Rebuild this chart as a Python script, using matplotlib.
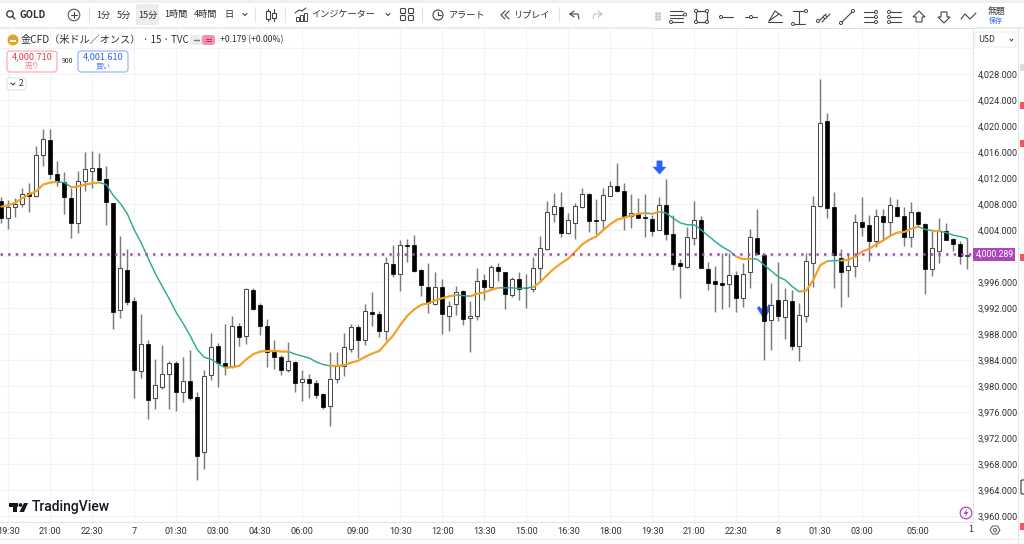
import matplotlib
matplotlib.use("Agg")
import matplotlib.pyplot as plt
import numpy as np
from matplotlib.patches import Rectangle, FancyBboxPatch, Circle, Polygon
from matplotlib.path import Path

plt.rcParams['font.family'] = ['Noto Sans CJK JP', 'DejaVu Sans']

# 15 minute candles
opens = [
    4008.5, 4005.8, 4007.5, 4008.0, 4009.7, 4009.2, 4015.6, 4017.8, 4012.6, 4011.4,
    4008.9, 4005.0, 4011.6, 4013.0, 4013.5, 4011.8, 4008.1, 3991.7, 3997.9, 3993.0,
    3982.3, 3986.5, 3978.2, 3979.9, 3981.8, 3983.6, 3979.0, 3980.8, 3978.3, 3969.8,
    3981.7, 3986.1, 3983.6, 3983.1, 3989.3, 3987.7, 3994.8, 3992.4, 3989.2, 3985.2,
    3984.4, 3982.4, 3983.7, 3980.6, 3981.1, 3980.5, 3978.7, 3976.9, 3981.0, 3983.1,
    3985.7, 3989.0, 3987.1, 3991.4, 3991.0, 3988.4, 3998.8, 3997.2, 4001.7, 4001.7,
    3997.9, 3995.3, 3992.6, 3995.3, 3990.8, 3992.6, 3994.6, 3990.4, 3990.8, 3996.3,
    3995.3, 3998.3, 3997.5, 3994.0, 3996.4, 3995.1, 3994.9, 3998.1, 4001.1, 4006.5,
    4007.6, 4003.5, 4005.1, 4007.5, 4009.5, 4005.6, 4005.6, 4009.3, 4010.7, 4010.0,
    4006.1, 4006.5, 4006.0, 4005.7, 4004.0, 4007.9, 4003.4, 3998.9, 3998.3, 4002.7,
    4005.5, 3998.0, 3996.1, 3995.8, 3995.7, 3997.0, 3993.5, 3997.6, 4002.7, 4000.2,
    3990.2, 3993.2, 3990.6, 3993.1, 3986.2, 3990.7, 3998.9, 4007.7, 4020.7, 4007.5,
    3999.7, 3997.8, 3998.5, 4005.3, 4004.8, 4002.3, 4006.1, 4005.3, 4007.6, 4006.2,
    4002.9, 4006.7, 4004.9, 3998.0, 4000.8, 4003.8, 4002.6, 4001.9, 4000.0]
highs = [
    4009.1, 4008.6, 4008.9, 4010.4, 4011.2, 4016.9, 4019.5, 4019.5, 4014.6, 4012.9,
    4010.4, 4013.0, 4016.0, 4016.2, 4015.9, 4013.8, 4008.2, 4003.1, 4001.0, 3993.7,
    3991.1, 3987.1, 3984.2, 3986.3, 3983.9, 3983.9, 3984.5, 3985.6, 3979.0, 3982.5,
    3988.1, 3986.6, 3989.5, 3990.8, 3989.7, 3995.1, 3995.1, 3992.7, 3990.3, 3987.1,
    3984.8, 3986.8, 3983.9, 3982.5, 3981.8, 3980.9, 3978.9, 3985.3, 3985.3, 3988.1,
    3989.6, 3989.4, 3992.6, 3994.5, 3991.5, 3999.8, 4001.7, 4002.5, 4002.6, 4003.2,
    3998.0, 3998.9, 3997.6, 3996.5, 3993.0, 3995.4, 3994.8, 3993.0, 3998.1, 3997.3,
    3998.6, 3998.9, 3997.6, 3996.8, 3997.5, 3997.2, 3999.8, 4003.0, 4008.4, 4009.7,
    4009.8, 4006.6, 4008.1, 4010.4, 4009.7, 4008.7, 4010.4, 4011.6, 4014.3, 4011.3,
    4009.5, 4008.9, 4009.5, 4006.3, 4009.1, 4011.8, 4006.3, 3999.6, 4004.4, 4008.4,
    4006.2, 3999.1, 3998.4, 4000.4, 4000.4, 3997.7, 3998.9, 4004.1, 4007.3, 4000.3,
    3995.8, 3999.1, 3995.0, 3994.8, 3992.8, 4000.5, 4009.3, 4027.3, 4022.0, 4009.8,
    4001.1, 4000.4, 4006.4, 4009.0, 4006.3, 4007.3, 4007.2, 4009.0, 4008.7, 4007.6,
    4008.3, 4006.9, 4005.0, 4004.0, 4005.8, 4005.1, 4002.7, 4002.3, 4002.7]
lows = [
    4005.0, 4004.1, 4006.0, 4007.6, 4006.8, 4009.0, 4013.8, 4011.8, 4010.8, 4006.4,
    4002.7, 4003.5, 4010.0, 4010.4, 4011.6, 4004.7, 3988.8, 3990.5, 3992.5, 3978.1,
    3981.3, 3974.9, 3976.4, 3979.5, 3976.4, 3976.2, 3977.6, 3977.9, 3965.5, 3967.3,
    3980.9, 3979.9, 3981.7, 3982.7, 3986.1, 3986.5, 3991.7, 3987.9, 3982.9, 3982.6,
    3981.7, 3982.2, 3979.0, 3977.7, 3978.1, 3978.2, 3976.5, 3973.8, 3980.5, 3981.6,
    3985.3, 3984.3, 3986.3, 3989.2, 3987.5, 3987.0, 3996.7, 3994.6, 3999.0, 3997.5,
    3993.9, 3991.3, 3992.5, 3988.0, 3988.4, 3990.9, 3989.4, 3985.2, 3990.2, 3993.3,
    3994.7, 3996.1, 3991.8, 3993.7, 3993.2, 3992.0, 3994.4, 3996.0, 4000.9, 4005.3,
    4002.9, 4003.4, 4002.6, 4007.4, 4003.7, 4003.4, 4004.0, 4009.2, 4009.9, 4004.0,
    4004.3, 4005.8, 4002.9, 4003.0, 4004.0, 4002.5, 3997.8, 3993.5, 3998.2, 4001.7,
    3998.1, 3994.7, 3991.4, 3991.8, 3992.1, 3991.4, 3992.2, 3995.0, 4000.3, 3984.0,
    3985.6, 3990.0, 3987.3, 3985.6, 3983.8, 3989.8, 3995.3, 4007.6, 4005.9, 3995.0,
    3992.2, 3993.7, 3996.8, 4003.0, 3999.3, 4001.4, 4002.4, 4003.2, 4006.0, 4001.6,
    4001.4, 4004.5, 3994.1, 3996.9, 3998.9, 4002.4, 4000.8, 3998.7, 3998.0]
closes = [
    4005.8, 4007.6, 4008.0, 4009.6, 4009.2, 4015.6, 4018.0, 4012.6, 4011.4, 4009.0,
    4005.1, 4011.6, 4013.4, 4013.5, 4011.7, 4008.3, 3991.4, 3998.1, 3992.9, 3982.5,
    3986.5, 3977.9, 3980.1, 3981.8, 3983.5, 3979.1, 3980.8, 3978.2, 3969.3, 3981.5,
    3986.0, 3983.6, 3983.0, 3989.2, 3987.5, 3994.9, 3991.9, 3989.2, 3985.2, 3984.4,
    3982.5, 3983.9, 3980.5, 3981.1, 3980.4, 3978.6, 3976.8, 3981.0, 3983.1, 3986.0,
    3989.0, 3987.0, 3991.5, 3991.0, 3988.5, 3998.9, 3997.3, 4001.7, 4001.6, 3997.7,
    3995.5, 3992.7, 3995.3, 3991.0, 3992.3, 3994.4, 3990.3, 3990.8, 3996.2, 3995.3,
    3998.3, 3997.7, 3994.1, 3996.4, 3994.9, 3995.0, 3998.1, 4001.3, 4006.7, 4007.7,
    4003.5, 4005.5, 4007.7, 4009.5, 4005.4, 4005.4, 4009.4, 4010.7, 4010.0, 4006.1,
    4006.6, 4005.9, 4005.9, 4003.9, 4007.9, 4003.4, 3998.7, 3998.4, 4002.9, 4005.6,
    3998.2, 3995.9, 3995.7, 3995.6, 3997.0, 3993.6, 3997.3, 4002.9, 4000.3, 3990.0,
    3992.4, 3990.8, 3993.2, 3986.1, 3990.9, 3999.2, 4007.7, 4020.5, 4007.4, 4000.1,
    3997.6, 3998.5, 4005.3, 4004.4, 4002.3, 4006.2, 4005.2, 4007.8, 4006.2, 4002.9,
    4006.7, 4004.9, 3998.0, 4001.2, 4003.9, 4002.4, 4001.8, 4000.0, 4000.2]

# moving average drawn through the candles
ema = [
    4007.6, 4007.8, 4008.2, 4008.9, 4009.5, 4010.0, 4011.0, 4011.3, 4011.4, 4011.3,
    4010.6, 4010.7, 4011.0, 4011.2, 4011.3, 4011.0, 4009.3, 4008.1, 4006.5, 4004.0,
    4002.0, 3999.6, 3997.3, 3995.3, 3993.4, 3991.3, 3989.6, 3987.7, 3985.6, 3984.4,
    3984.1, 3983.4, 3982.8, 3982.9, 3983.1, 3984.1, 3984.9, 3985.3, 3985.4, 3985.4,
    3985.3, 3985.3, 3984.9, 3984.6, 3984.3, 3983.7, 3983.3, 3983.1, 3983.1, 3983.2,
    3983.6, 3983.9, 3984.5, 3985.0, 3985.4, 3986.6, 3987.8, 3989.4, 3990.8, 3991.8,
    3992.5, 3992.7, 3993.2, 3993.5, 3993.8, 3994.0, 3993.9, 3993.8, 3994.2, 3994.4,
    3994.8, 3995.1, 3995.1, 3995.1, 3995.0, 3995.1, 3995.2, 3996.0, 3997.1, 3998.1,
    3998.9, 3999.6, 4000.7, 4001.8, 4002.5, 4003.0, 4004.0, 4004.9, 4005.6, 4005.9,
    4006.2, 4006.5, 4006.6, 4006.5, 4006.8, 4006.6, 4005.8, 4005.1, 4004.8, 4004.8,
    4004.0, 4003.1, 4002.2, 4001.4, 4000.8, 3999.9, 3999.5, 3999.6, 3999.5, 3998.6,
    3997.7, 3996.8, 3996.3, 3995.3, 3994.5, 3994.7, 3996.3, 3998.6, 3999.2, 3999.3,
    3999.3, 3999.4, 3999.9, 4000.7, 4001.1, 4001.8, 4002.4, 4003.1, 4003.6, 4003.7,
    4004.2, 4004.5, 4004.1, 4003.9, 4003.8, 4003.6, 4003.2, 4003.0, 4002.7]
# stretches of the average that are orange, the rest is teal
ema_up_ranges = [(0, 8), (10, 14), (32, 41), (47, 65), (67, 71), (76, 92), (93, 94),
                 (105, 107), (114, 118), (120, 131), (133, 134)]

time_ticks = [1, 7, 13, 19, 25, 31, 37, 43, 51, 57, 63, 69, 75, 81, 87, 93, 99, 105,
              111, 117, 123, 131]
time_labels = ['19:30', '21:00', '22:30', '7', '01:30', '03:00', '04:30', '06:00',
               '09:00', '10:30', '12:00', '13:30', '15:00', '16:30', '18:00', '19:30',
               '21:00', '22:30', '8', '01:30', '03:00', '05:00']
price_ticks = list(range(3960, 4033, 4))
last_price = 4000.289
sell_signal = (94, 4013.7)
buy_signal = (109, 3991.6)

W, H = 1024, 544
fig = plt.figure(figsize=(W / 100, H / 100), dpi=100, facecolor='white')

# main chart, 7 px per candle
ax = fig.add_axes([0, 1 - 522 / H, 973 / W, (522 - 28) / H], zorder=1)
ax.set_xlim(-1.3 / 7, (973 - 1.3) / 7)
ax.set_ylim(4028 - (522 - 74) / 6.5, 4028 + 46 / 6.5)
for s in ax.spines.values():
    s.set_visible(False)
ax.spines['right'].set_visible(True)
ax.spines['bottom'].set_visible(True)
ax.spines['right'].set_color('#e4e4e4')
ax.spines['bottom'].set_color('#e4e4e4')
ax.yaxis.tick_right()
ax.set_xticks(time_ticks)
ax.set_xticklabels(time_labels, fontsize=6.6, color='#333333', family='Roboto')
ax.set_yticks(price_ticks)
ax.set_yticklabels(['' if p in (4000, 4032) else f'{p:,.3f}' for p in price_ticks],
                   fontsize=6.6, color='#333333', family='Roboto')
ax.tick_params(axis='both', length=0)
ax.tick_params(axis='x', pad=3.5)
ax.tick_params(axis='y', pad=3.6)
ax.grid(True, color='#f3f3f3', linewidth=0.8)
ax.set_axisbelow(True)

idx = np.arange(len(opens))
o, h, l, c = map(np.array, (opens, highs, lows, closes))
down = c < o

# buy marker sits behind the candle
v_mark = Path([(-1, 0.45), (-0.72, 0.72), (0.0, 0.0), (0.55, 0.95), (1, 0.72), (0.15, -0.8), (-0.2, -0.8), (-1, 0.45)])
ax.scatter(*buy_signal, marker=v_mark, s=120, color='#2962ff', zorder=2, linewidths=0)

ax.vlines(idx, l, h, color='#7b7b7b', linewidth=1.05, zorder=3)
ax.bar(idx[down], (o - c)[down], bottom=c[down], width=0.62, color='black',
       edgecolor='black', linewidth=0.5, zorder=4)
ax.bar(idx[~down], (c - o)[~down], bottom=o[~down], width=0.62, color='white',
       edgecolor='#4a4a4a', linewidth=0.75, zorder=4)

ax.plot(idx, ema, color='#2bab97', linewidth=1.05, zorder=5, solid_capstyle='round')
for a, b in ema_up_ranges:
    ax.plot(idx[a:b + 1], ema[a:b + 1], color='#ff9f1c', linewidth=1.45, zorder=6,
            solid_capstyle='round')

ax.axhline(last_price, color='#ab47bc', linewidth=1.8, linestyle=(0, (1, 2.05)), zorder=7)

down_arrow = Path([(-0.42, 1), (0.42, 1), (0.42, 0.1), (1, 0.1), (0, -1), (-1, 0.1), (-0.42, 0.1), (-0.42, 1)])
ax.scatter(*sell_signal, marker=down_arrow, s=100, color='#2962ff', zorder=8, linewidths=0)

# window furniture on top, in pixels
ui = fig.add_axes([0, 0, 1, 1], zorder=2)
ui.set_xlim(0, W)
ui.set_ylim(H, 0)
ui.axis('off')
ui.patch.set_alpha(0)

JP = ['Noto Sans CJK JP', 'DejaVu Sans']
DARK = '#2e2e2e'


def label(x, y, s, size=6.6, color=DARK, ha='center', **kw):
    ui.text(x, y, s, fontsize=size, color=color, ha=ha, va='center', family=JP, **kw)


def box(x, y, w, h, fc='white', ec='none', lw=0.8, r=2, z=1):
    ui.add_patch(FancyBboxPatch((x + r, y + r), w - 2 * r, h - 2 * r,
                                boxstyle=f'round,pad={r},rounding_size={r}',
                                fc=fc, ec=ec, lw=lw, zorder=z, mutation_aspect=1))


def stroke(xs, ys, color='#454545', lw=0.8):
    ui.plot(xs, ys, color=color, linewidth=lw, solid_capstyle='round', zorder=4)


def dot(x, y, r=1.5, color='#454545', fc='white', lw=0.7):
    ui.add_patch(Circle((x, y), r, fc=fc, ec=color, lw=lw, zorder=5))


# top bar
ui.add_patch(Rectangle((0, 0), W, 3, fc='#f0f0f0', ec='none'))
ui.add_patch(Rectangle((0, 27), W, 2, fc='#ececec', ec='none'))
ui.add_patch(Circle((10, 14), 3.2, fc='none', ec=DARK, lw=0.9))
stroke([12.4, 15], [16.4, 19], color=DARK, lw=0.9)
label(19, 15, 'GOLD', size=6.8, ha='left', weight='bold')
ui.add_patch(Circle((74, 15), 5.8, fc='none', ec='#555555', lw=0.8))
stroke([71, 77], [15, 15])
stroke([74, 74], [12, 18])
box(136, 4, 23, 21, fc='#ececec', r=2)
for x, s in zip([103, 124, 148, 176, 206, 229], ['1分', '5分', '15分', '1時間', '4時間', '日']):
    label(x, 15, s, size=6.6)
stroke([243, 245, 247], [13.5, 15.5, 13.5])
for x in [89, 255, 285, 422, 559]:
    stroke([x, x], [7, 22], color='#e2e2e2')

# candle icon
stroke([268, 268], [9, 21])
stroke([274, 274], [9, 21])
ui.add_patch(Rectangle((266, 11), 4, 8, fc='white', ec='#454545', lw=0.8, zorder=5))
ui.add_patch(Rectangle((272, 13), 4, 5, fc='white', ec='#454545', lw=0.8, zorder=5))

# indicator icon
for x, b in [(296, 17), (300, 15), (304, 13)]:
    ui.add_patch(Rectangle((x, b), 2.6, 21 - b, fc='white', ec='#454545', lw=0.7))
stroke([295, 299, 302, 306], [13, 10, 11, 8])
label(343, 15, 'インジケーター', size=6.6)
stroke([386, 388, 390], [13.5, 15.5, 13.5])
for x in [403, 411]:
    for y in [11, 18]:
        box(x - 2.5, y - 2.5, 5, 5, fc='white', ec='#454545', r=1)
ui.add_patch(Circle((438, 15), 5, fc='none', ec='#454545', lw=0.8))
stroke([438, 438, 441], [12, 15, 15])
label(467, 15, 'アラート', size=6.6)
stroke([505, 501, 505], [11, 15, 19])
stroke([509, 505, 509], [11, 15, 19])
label(532, 15, 'リプレイ', size=6.6)
stroke([570, 574], [14, 11])
stroke([570, 574], [14, 17])
stroke([570, 578, 579], [14, 14, 19])
stroke([602, 598], [14, 11], color='#c4c4c4')
stroke([602, 598], [14, 17], color='#c4c4c4')
stroke([602, 594, 593], [14, 14, 19], color='#c4c4c4')

# floating drawing toolbar
box(652, 7, 327, 22, fc='#e0e0e0', r=4, z=2)
box(650, 5, 329, 23, fc='white', ec='none', r=4, z=3)
for x in [656, 659]:
    ui.scatter([x] * 3, [13, 16, 19], s=1.2, color='#c8c8c8', zorder=4)
for y in [11, 14.5, 18, 22]:
    stroke([670, 683], [y, y])
dot(685, 14.5)
dot(671, 22)
ui.add_patch(Rectangle((696, 11), 11, 11, fc='none', ec='#454545', lw=0.9, zorder=4))
for px, py in [(696, 11), (707, 11), (696, 22), (707, 22)]:
    dot(px, py)
stroke([722, 733], [17, 17])
dot(721, 17)
stroke([745, 757], [17, 17])
dot(751, 17)
stroke([768, 782], [22, 22])
stroke([769, 775, 782], [21, 11, 16])
stroke([769, 779], [21, 14])
stroke([793, 805], [11, 11])
stroke([793, 805], [24, 24])
stroke([799, 799], [11, 24])
dot(806, 11)
dot(793, 24)
stroke([818, 826], [22, 14])
stroke([822, 830], [22, 14])
dot(818, 21)
dot(825, 17)
stroke([842, 852], [22, 12])
dot(841, 23)
dot(853, 11)
for x0, flip in [(864, 1), (889, -1)]:
    for y in [12, 17, 22]:
        stroke([x0, x0 + 12], [y, y])
        dot(x0 + (12 if flip > 0 else 0), y)
ui.add_patch(Polygon([(919, 11), (925, 17), (922, 17), (922, 22), (916, 22), (916, 17), (913, 17)],
                     fc='white', ec='#454545', lw=0.8, zorder=4))
ui.add_patch(Polygon([(944, 23), (950, 17), (947, 17), (947, 12), (941, 12), (941, 17), (938, 17)],
                     fc='white', ec='#454545', lw=0.8, zorder=4))
stroke([961, 965, 970, 976], [19, 14, 19, 13])
label(996, 11.5, '無題', size=6.4, color='#444444')
label(996, 20.5, '保存', size=5, color='#2962ff')

# symbol line
ui.add_patch(Circle((13, 40), 5.5, fc='#e0a526', ec='none'))
ui.add_patch(Rectangle((10, 39.5), 6, 2.5, fc='white', ec='none'))
label(21, 40, '金CFD（米ドル／オンス）', size=7.3, ha='left')
label(143, 40, '· 15 · TVC', size=7, ha='left')
box(190, 35, 25, 10, fc='#ececec', r=4.5)
box(202, 35, 13, 10, fc='#f48fb1', r=3.5, z=2)
stroke([194, 199], [40, 40], color='#777777', lw=1)
stroke([206, 211], [39, 39], color='#c2185b', lw=0.6)
stroke([206, 211], [41, 41], color='#c2185b', lw=0.6)
label(220, 40, '+0.179 (+0.00%)', size=6.2, ha='left')

# sell and buy boxes
box(7, 51, 50, 21, fc='white', ec='#f9a6ad', r=3)
label(32, 57, '4,000.710', size=6.6, color='#f23645')
label(32, 66, '売り', size=5.4, color='#f77c80')
label(67, 61, '900', size=5, color='#333333')
box(78, 51, 50, 21, fc='white', ec='#90aefc', r=3)
label(103, 57, '4,001.610', size=6.6, color='#2962ff')
label(103, 66, '買い', size=5.4, color='#5b86f7')
box(7, 78, 19, 12, fc='white', ec='#e4e4e4', r=2)
stroke([11, 13, 15], [83, 85, 83])
label(21, 84, '2', size=6)

# logo
ui.add_patch(Rectangle((9, 503), 9, 3.6, fc='#131722', ec='none'))
ui.add_patch(Rectangle((13, 503), 4.4, 9, fc='#131722', ec='none'))
ui.add_patch(Circle((20.5, 505), 1.9, fc='#131722', ec='none'))
ui.add_patch(Polygon([(24, 503), (28, 503), (24, 512), (19.5, 512)], fc='#131722', ec='none'))
ui.text(32, 507.5, 'TradingView', fontsize=10, color='#131722', ha='left', va='center',
        family='Roboto', weight='medium')

# price scale extras
box(975, 32, 41, 15, fc='white', ec='#efefef', r=2)
label(978, 39.5, 'USD', size=6, ha='left')
stroke([1010, 1011.5, 1013], [39, 41, 39], lw=0.7)
ui.add_patch(Rectangle((973, 248), 42, 13, fc='#ab47bc', ec='none', zorder=3))
ui.text(995, 254.5, f'{last_price:,.3f}', fontsize=6.3, color='white', ha='center',
        va='center', family='Roboto', zorder=4)
ui.add_patch(Circle((966, 513), 5.8, fc='white', ec='#ab47bc', lw=0.9))
ui.add_patch(Polygon([(967, 509), (963.5, 514), (965.8, 514), (965, 517), (968.5, 512), (966.3, 512)],
                     fc='#ab47bc', ec='none', zorder=4))
label(971, 530, '1', size=6.6)
ui.add_patch(Polygon([(990, 530), (992.5, 526), (997.5, 526), (1000, 530), (997.5, 534), (992.5, 534)],
                     fc='white', ec='#555555', lw=0.7))
ui.add_patch(Circle((995, 530), 1.5, fc='white', ec='#555555', lw=0.7))

# right strip
ui.add_patch(Rectangle((1018, 29), 6, 515, fc='white', ec='none'))
stroke([1018, 1018], [29, 544], color='#e4e4e4')
stroke([0, 1024], [539, 539], color='#efefef')
ui.add_patch(Rectangle((1020, 64), 4, 7, fc='#dddddd', ec='none'))
for y in [102, 140, 254, 523]:
    ui.add_patch(Rectangle((1020, y), 4, 7, fc='#f7525f', ec='none'))
box(1021, 480, 6, 14, fc='white', ec='#333333', r=1)

fig.savefig('out.png', dpi=100)
plt.close(fig)
